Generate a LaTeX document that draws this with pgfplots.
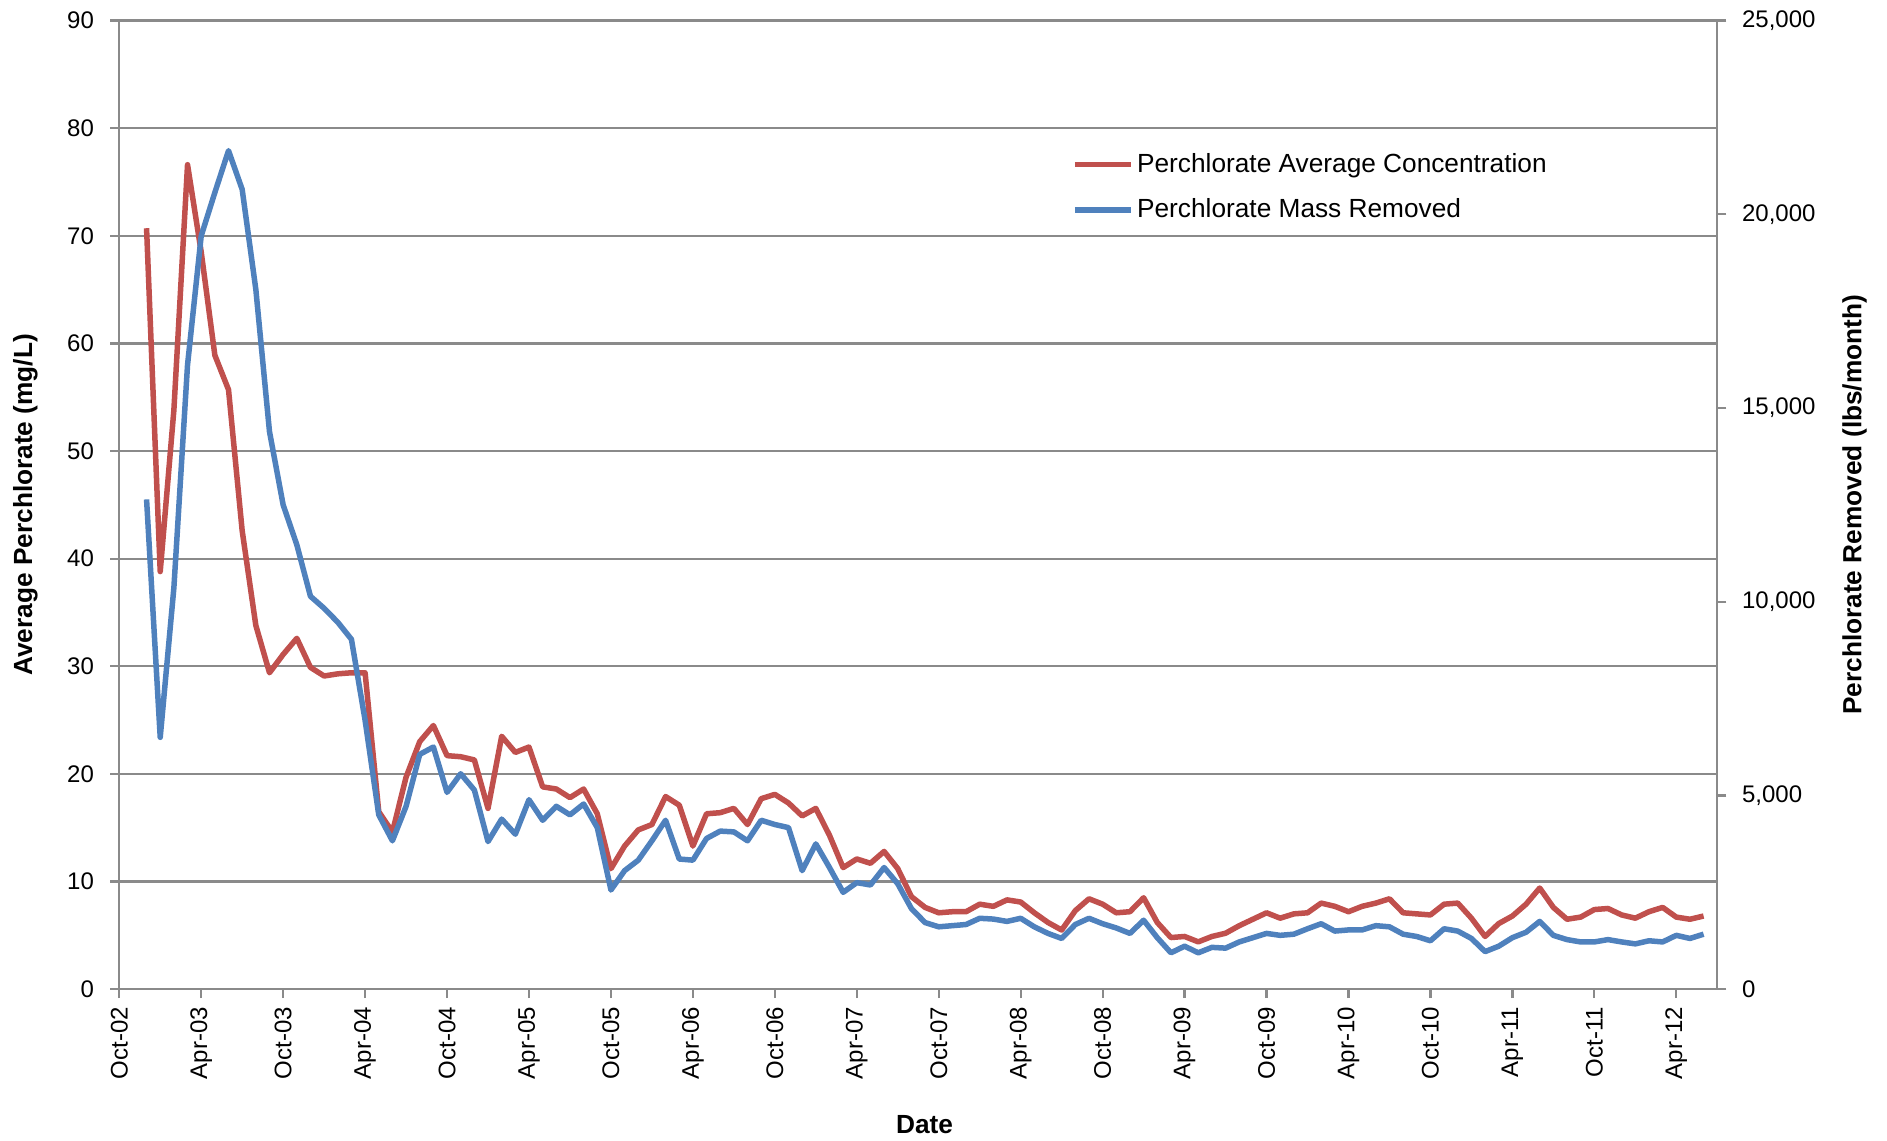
\documentclass[border=0pt]{standalone}
\usepackage{pgfplots}
\pgfplotsset{compat=1.18}
\usepackage{pgfplotstable}
\usepackage{fontspec}
\setmainfont{Liberation Sans}
\definecolor{exred}{HTML}{C0504D}
\definecolor{exblue}{HTML}{4F81BD}
\definecolor{axgray}{HTML}{8A8A8A}

\pgfplotstableread{
m c
2 70.7
3 38.8
4 53.8
5 76.6
6 68.5
7 58.9
8 55.7
9 42.6
10 33.8
11 29.4
12 31.1
13 32.6
14 29.9
15 29.1
16 29.3
17 29.4
18 29.4
19 16.5
20 14.6
21 19.7
22 23.0
23 24.5
24 21.7
25 21.6
26 21.3
27 16.8
28 23.5
29 22.0
30 22.5
31 18.8
32 18.6
33 17.8
34 18.6
35 16.3
36 11.2
37 13.3
38 14.8
39 15.3
40 17.9
41 17.1
42 13.3
43 16.3
44 16.4
45 16.8
46 15.3
47 17.7
48 18.1
49 17.3
50 16.1
51 16.8
52 14.3
53 11.3
54 12.1
55 11.7
56 12.8
57 11.2
58 8.6
59 7.6
60 7.1
61 7.2
62 7.2
63 7.9
64 7.7
65 8.3
66 8.1
67 7.1
68 6.2
69 5.5
70 7.3
71 8.4
72 7.9
73 7.1
74 7.2
75 8.5
76 6.2
77 4.8
78 4.9
79 4.4
80 4.9
81 5.2
82 5.9
83 6.5
84 7.1
85 6.6
86 7.0
87 7.1
88 8.0
89 7.7
90 7.2
91 7.7
92 8.0
93 8.4
94 7.1
95 7.0
96 6.9
97 7.9
98 8.0
99 6.6
100 4.9
101 6.1
102 6.8
103 7.9
104 9.4
105 7.6
106 6.5
107 6.7
108 7.4
109 7.5
110 6.9
111 6.6
112 7.2
113 7.6
114 6.7
115 6.5
116 6.8
}\conc

\pgfplotstableread{
m r
2 12640
3 6500
4 10360
5 16110
6 19440
7 20560
8 21640
9 20640
10 18060
11 14390
12 12500
13 11470
14 10140
15 9830
16 9470
17 9030
18 6940
19 4500
20 3830
21 4720
22 6060
23 6250
24 5080
25 5560
26 5140
27 3810
28 4390
29 4000
30 4890
31 4360
32 4720
33 4500
34 4780
35 4170
36 2560
37 3060
38 3330
39 3830
40 4360
41 3360
42 3330
43 3890
44 4080
45 4060
46 3830
47 4360
48 4250
49 4170
50 3060
51 3750
52 3140
53 2500
54 2750
55 2690
56 3140
57 2720
58 2080
59 1720
60 1610
61 1640
62 1670
63 1830
64 1810
65 1750
66 1830
67 1610
68 1440
69 1310
70 1670
71 1830
72 1690
73 1580
74 1440
75 1780
76 1330
77 940
78 1110
79 940
80 1080
81 1060
82 1220
83 1330
84 1440
85 1390
86 1420
87 1560
88 1690
89 1500
90 1530
91 1530
92 1640
93 1610
94 1420
95 1360
96 1250
97 1560
98 1500
99 1310
100 970
101 1110
102 1330
103 1470
104 1750
105 1390
106 1280
107 1220
108 1220
109 1280
110 1220
111 1170
112 1250
113 1220
114 1390
115 1310
116 1420
}\mass

\begin{document}
\begin{tikzpicture}
\pgfplotsset{
  every axis/.append style={
    scale only axis, width=639.2pt, height=387.5pt,
    xmin=0, xmax=117,
    tick align=outside,
    major tick length=3.6pt,
    axis line style={axgray, line width=0.9pt},
    tick style={axgray, line width=0.9pt},
    tick label style={font=\fontsize{9.6}{11}\selectfont, black},
    /pgf/number format/assume math mode=true,
    label style={font=\bfseries\fontsize{10.5}{12}\selectfont},
  }
}
\begin{axis}[
  ymin=0, ymax=90,
  xtick={0,6,...,114},
  xticklabels={Oct-02,Apr-03,Oct-03,Apr-04,Oct-04,Apr-05,Oct-05,Apr-06,Oct-06,Apr-07,Oct-07,Apr-08,Oct-08,Apr-09,Oct-09,Apr-10,Oct-10,Apr-11,Oct-11,Apr-12},
  x tick label style={rotate=90, anchor=east},
  ytick={0,10,...,90},
  yticklabel style={xshift=-3pt},
  xtick pos=bottom, ytick pos=left,
  ymajorgrids, grid style={axgray, line width=0.9pt},
  xlabel={Date},
  xlabel style={at={(axis description cs:0.504,-0.140)}, anchor=center},
  ylabel={Average Perchlorate (mg/L)},
  ylabel style={at={(axis description cs:-0.0588,0.5)}, anchor=center, rotate=0},
  legend style={at={(axis description cs:0.5913,0.874)}, anchor=north west, draw=none, fill=none,
    font=\fontsize{10.5}{12}\selectfont, row sep=5.1pt, column sep=-0.6pt},
  legend cell align=left,
  legend image code/.code={\draw[#1, line width=2.2pt] (0pt,0pt) -- (22.4pt,0pt);},
]
\addplot[exred, line width=2.2pt, line join=round] table[x=m, y=c] {\conc};
\addlegendentry{Perchlorate Average Concentration}
\addlegendimage{exblue, line width=2.2pt}
\addlegendentry{Perchlorate Mass Removed}
\coordinate (BL) at (rel axis cs:0,0);
\coordinate (TR) at (rel axis cs:1,1);
\end{axis}
\begin{axis}[
  ymin=0, ymax=25000,
  axis x line=none, axis y line*=right,
  ytick={0,5000,...,25000},
  scaled y ticks=false,
  yticklabel style={xshift=2.8pt, /pgf/number format/.cd, 1000 sep={,}},
  ylabel={Perchlorate Removed (lbs/month)},
  ylabel style={at={(axis description cs:1.0859,0.5)}, anchor=center, rotate=0},
]
\addplot[exblue, line width=2.2pt, line join=round] table[x=m, y=r] {\mass};
\end{axis}
\pgfresetboundingbox
\path[use as bounding box] ([xshift=-47.7pt,yshift=-60.7pt]BL) rectangle ([xshift=67.9pt,yshift=8.2pt]TR);
\end{tikzpicture}
\end{document}
